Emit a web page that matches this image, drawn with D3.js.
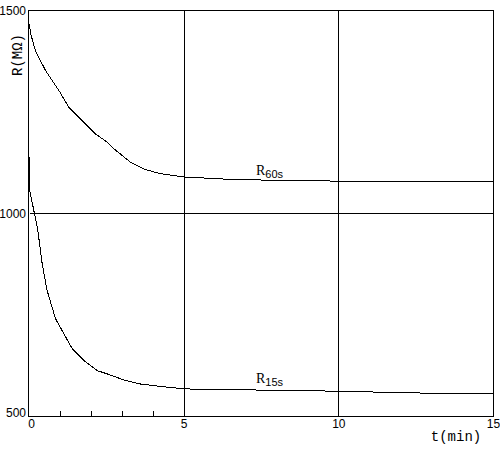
<!DOCTYPE html>
<html>
<head>
<meta charset="utf-8">
<script src="https://cdn.jsdelivr.net/npm/d3@7"></script>
<style>
  body { margin: 0; background: #fff; }
  svg { display: block; }
</style>
</head>
<body>
<div id="chart"></div>
<script>
// R60s readings: time (min) and resistance (MΩ)
const t60 = [0, 0.03, 0.19, 0.52, 0.95, 1.27, 1.65, 2.13, 2.51, 2.72, 3.27, 3.75, 4.24, 5, 6.5, 8.5, 11, 15];
const r60 = [1466, 1445, 1401, 1352, 1303, 1262, 1233, 1196, 1176, 1160, 1126, 1108, 1098, 1090, 1084, 1081, 1079, 1078];
// R15s readings
const t15 = [0, 0, 0.27, 0.41, 0.57, 0.84, 1.11, 1.38, 1.76, 2.19, 2.51, 3.05, 3.59, 4.24, 5, 6.5, 8.77, 10.7, 12.5, 14.3, 15];
const r15 = [1140, 1060, 958, 876, 810, 741, 704, 667, 638, 613, 605, 590, 580, 574, 568, 566, 564, 561, 558, 556, 556];

const xTicks = [0, 5, 10, 15];
const xMinor = [1, 2, 3, 4];
const yTicks = [500, 1000, 1500];

const drawChart = () => {
    const w = 500, h = 450;
    const svg = d3.select("#chart").append("svg").attr("width", w).attr("height", h);

    const x = d3.scaleLinear().domain([0, 15]).range([29.5, 493.5]);
    const y = d3.scaleLinear().domain([500, 1500]).range([416.5, 10.5]);

    // frame (left edge sits one pixel left of t=0)
    svg.append("rect")
        .attr("x", x(0) - 1).attr("y", y(1500))
        .attr("width", x(15) - x(0) + 1).attr("height", y(500) - y(1500))
        .attr("fill", "none").attr("stroke", "#000").attr("shape-rendering", "crispEdges");

    // grid at 5, 10 and 1000
    svg.selectAll(".vgrid").data([5, 10]).join("line")
        .attr("x1", d => x(d)).attr("x2", d => x(d))
        .attr("y1", y(1500)).attr("y2", y(500))
        .attr("stroke", "#000").attr("shape-rendering", "crispEdges");
    svg.append("line")
        .attr("x1", x(0)).attr("x2", x(15))
        .attr("y1", y(1000)).attr("y2", y(1000))
        .attr("stroke", "#000").attr("shape-rendering", "crispEdges");

    // small ticks inside along bottom
    svg.selectAll(".minor").data(xMinor).join("line")
        .attr("x1", d => x(d)).attr("x2", d => x(d))
        .attr("y1", y(500)).attr("y2", y(500) - 6)
        .attr("stroke", "#000").attr("shape-rendering", "crispEdges");

    // tick labels
    svg.selectAll(".xl").data(xTicks).join("text")
        .attr("x", d => x(d) + (d === 0 ? 2 : 0)).attr("y", 428)
        .attr("text-anchor", "middle")
        .style("font", "12px 'Liberation Sans', Arial, sans-serif")
        .text(d => d);
    svg.selectAll(".yl").data(yTicks).join("text")
        .attr("x", 26).attr("y", d => y(d) + (d === 500 ? 0 : 4))
        .attr("text-anchor", "end")
        .style("font", "12px 'Liberation Sans', Arial, sans-serif")
        .text(d => d);

    // axis titles
    svg.append("text")
        .attr("transform", "translate(22,55) rotate(-90)")
        .attr("text-anchor", "middle")
        .style("font", "14px 'Liberation Mono', monospace")
        .text("R(MΩ)");
    svg.append("text")
        .attr("x", 456).attr("y", 441)
        .attr("text-anchor", "middle")
        .style("font", "14px 'Liberation Mono', monospace")
        .text("t(min)");

    const line = d3.line().x(d => x(d[0])).y(d => y(d[1]));
    const series = [
        { t: t60, r: r60, label: "60s", ly: 175 },
        { t: t15, r: r15, label: "15s", ly: 383 }
    ];
    series.forEach(s => {
        svg.append("path")
            .datum(s.t.map((t, i) => [t, s.r[i]]))
            .attr("d", line)
            .attr("fill", "none").attr("stroke", "#000").attr("stroke-width", 1)
            .attr("shape-rendering", "crispEdges");
        const txt = svg.append("text").attr("x", 256).attr("y", s.ly);
        txt.append("tspan")
            .style("font", "14px 'Liberation Serif', serif")
            .text("R");
        txt.append("tspan")
            .attr("dy", 3)
            .style("font", "11px 'Liberation Sans', Arial, sans-serif")
            .text(s.label);
    });
};

drawChart();
</script>
</body>
</html>
